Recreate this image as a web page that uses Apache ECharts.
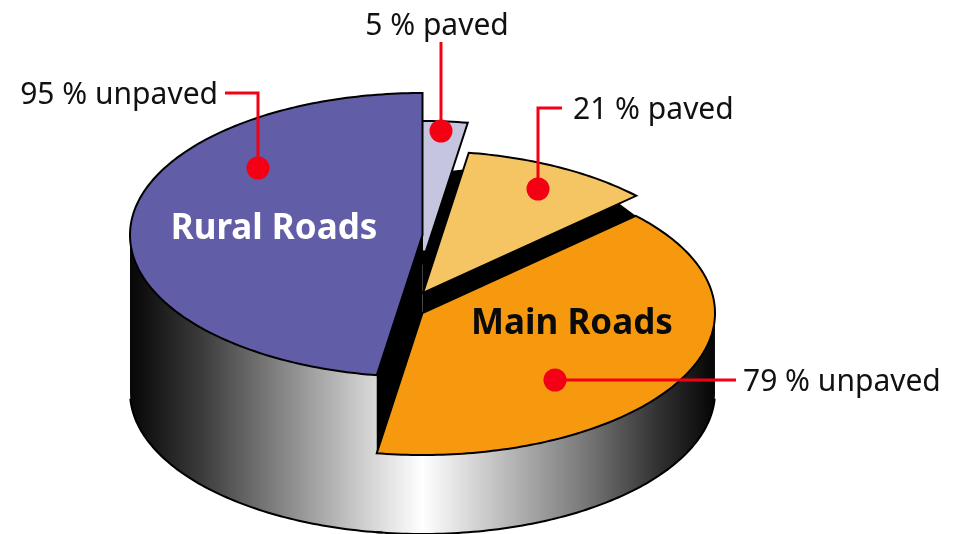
<!DOCTYPE html>
<html>
<head>
<meta charset="utf-8">
<style>
  html, body { margin: 0; padding: 0; background: #fff; }
  #chart { width: 956px; height: 534px; }
</style>
<script src="https://cdn.jsdelivr.net/npm/echarts@6/dist/echarts.min.js"></script>
</head>
<body>
<div id="chart"></div>
<script>
// Data: each road class takes half of the pie, split into unpaved / paved
const roadNames = ['Rural Roads', 'Main Roads']
const roadShare = [50, 50]
const unpavedPct = [95, 79]
const pavedPct = [5, 21]

// Slices going counter-clockwise from 12 o'clock
const sliceLabels = ['95 % unpaved', '79 % unpaved', '21 % paved', '5 % paved']
const sliceValues = [
  roadShare[0] * unpavedPct[0] / 100,
  roadShare[1] * unpavedPct[1] / 100,
  roadShare[1] * pavedPct[1] / 100,
  roadShare[0] * pavedPct[0] / 100
]

// Layout of the exploded pie
const RX = 292.5
const RY = 142
const BASE_Y = 392
const sliceCenters = [[422.5, 235], [422.5, 313], [423, 293], [422, 263]]
const sliceColors = ['#615ea7', '#f7990e', '#f5c563', '#c6c5e0']
const sideStops = [
  { offset: 0, color: '#060606' },
  { offset: 0.12, color: '#3a3a3a' },
  { offset: 0.25, color: '#808080' },
  { offset: 0.4, color: '#cfcfcf' },
  { offset: 0.5, color: '#ffffff' },
  { offset: 0.6, color: '#cfcfcf' },
  { offset: 0.78, color: '#777777' },
  { offset: 0.9, color: '#333333' },
  { offset: 1, color: '#050505' }
]

// Callouts: dot first, then the elbow of the red line
const leaders = [
  [[258, 168], [258, 93], [225, 93]],
  [[555, 380], [736, 380]],
  [[538, 189], [538, 108], [562, 108]],
  [[441, 131], [441, 42]]
]
const labelAnchors = [[218, 95, 'right'], [743, 382, 'left'], [573, 110, 'left'], [437, 26, 'center']]
const roadLabelAnchors = [[274, 229, '#ffffff'], [572, 324, '#0a0a0a']]

const LABEL_FONT = '30px "Noto Sans", sans-serif'
const ROAD_FONT = 'bold 35px "Noto Sans", sans-serif'

// Angles in degrees, maths convention, starting at the top
const total = sliceValues.reduce((a, b) => a + b, 0)
const sliceAngles = []
let cursor = 90
sliceValues.forEach(v => {
  const next = cursor + v / total * 360
  sliceAngles.push([cursor, next])
  cursor = next
})

const pointOn = (i, deg, frac = 1) => {
  const t = deg * Math.PI / 180
  const c = sliceCenters[i]
  return [c[0] + RX * frac * Math.cos(t), c[1] - RY * frac * Math.sin(t)]
}

const arc = (i, from, to) => {
  const pts = []
  const steps = Math.max(2, Math.ceil(Math.abs(to - from)))
  for (let s = 0; s <= steps; s++) {
    pts.push(pointOn(i, from + (to - from) * s / steps))
  }
  return pts
}

// Outer wall of a slice, only the part facing the viewer
const renderSide = (params) => {
  const i = params.dataIndex
  const from = Math.max(sliceAngles[i][0], 180)
  const to = Math.min(sliceAngles[i][1], 360)
  if (to <= from) return { type: 'group', children: [] }
  // a degree of overlap so no seam shows where two walls meet
  const top = arc(i, from, to + 1)
  const drop = BASE_Y - sliceCenters[i][1]
  const bottom = top.map(p => [p[0], p[1] + drop])
  return {
    type: 'group',
    children: [
      {
        type: 'polygon',
        z2: 1,
        shape: { points: top.concat(bottom.slice().reverse()) },
        style: { fill: new echarts.graphic.LinearGradient(130, 0, 715, 0, sideStops, true) }
      },
      {
        type: 'polyline',
        z2: 2,
        // keep the ends inside the silhouette
        shape: { points: arc(i, Math.max(from, 183), Math.min(to + 1, 357)).map(p => [p[0], p[1] + drop]) },
        style: { fill: 'none', stroke: '#000', lineWidth: 2, lineCap: 'round' }
      }
    ]
  }
}

// Black cut faces between the slices
const renderWalls = () => {
  const [rural, main, paved, small] = [0, 1, 2, 3]
  const ruralEdge = pointOn(rural, sliceAngles[rural][1])
  const drop = sliceCenters[main][1] - sliceCenters[rural][1]
  const c0 = sliceCenters[rural]
  const wallA = [c0, ruralEdge, [ruralEdge[0], ruralEdge[1] + drop], [c0[0], c0[1] + drop]]
  const wallB = [
    sliceCenters[paved],
    pointOn(paved, sliceAngles[paved][0], 0.92),
    pointOn(main, sliceAngles[main][1]),
    sliceCenters[main]
  ]
  const notch = pointOn(small, sliceAngles[small][0], 0.09)
  const wallC = [
    pointOn(small, sliceAngles[small][0], 0.657),
    pointOn(paved, sliceAngles[paved][1], 0.88),
    sliceCenters[paved],
    sliceCenters[main],
    [c0[0], notch[1]],
    notch
  ]
  return {
    type: 'group',
    children: [wallA, wallB, wallC].map(points => ({
      type: 'polygon',
      z2: 4,
      shape: { points },
      style: { fill: '#000' }
    }))
  }
}

const renderTop = (params) => {
  const i = params.dataIndex
  const points = [sliceCenters[i]].concat(arc(i, sliceAngles[i][0], sliceAngles[i][1]))
  return {
    type: 'polygon',
    z2: i === 3 ? 3 : 5,
    shape: { points },
    style: { fill: sliceColors[i], stroke: '#000', lineWidth: 2, lineJoin: 'miter' }
  }
}

const renderCallout = (params) => {
  const i = params.dataIndex
  const path = leaders[i]
  const anchor = labelAnchors[i]
  return {
    type: 'group',
    children: [
      {
        type: 'polyline',
        z2: 6,
        shape: { points: path },
        style: { fill: 'none', stroke: '#f40014', lineWidth: 3 }
      },
      {
        type: 'circle',
        z2: 6,
        shape: { cx: path[0][0], cy: path[0][1], r: 11.5 },
        style: { fill: '#f40014' }
      },
      {
        type: 'text',
        z2: 7,
        style: {
          text: sliceLabels[i],
          x: anchor[0],
          y: anchor[1],
          textAlign: anchor[2],
          textVerticalAlign: 'middle',
          font: LABEL_FONT,
          fill: '#111111'
        }
      }
    ]
  }
}

const renderRoadName = (params) => {
  const a = roadLabelAnchors[params.dataIndex]
  return {
    type: 'text',
    z2: 7,
    style: {
      text: roadNames[params.dataIndex],
      x: a[0],
      y: a[1],
      textAlign: 'center',
      textVerticalAlign: 'middle',
      font: ROAD_FONT,
      fill: a[2]
    }
  }
}

const sliceData = sliceValues.map((v, i) => ({ name: sliceLabels[i], value: v }))

const chart = echarts.init(document.getElementById('chart'))
chart.setOption({
  animation: false,
  backgroundColor: '#ffffff',
  series: [
    { type: 'custom', coordinateSystem: 'none', silent: true, data: sliceData, renderItem: renderSide },
    { type: 'custom', coordinateSystem: 'none', silent: true, data: [0], renderItem: renderWalls },
    { type: 'custom', coordinateSystem: 'none', silent: true, data: sliceData, renderItem: renderTop },
    { type: 'custom', coordinateSystem: 'none', silent: true, data: sliceData, renderItem: renderCallout },
    { type: 'custom', coordinateSystem: 'none', silent: true, data: roadShare, renderItem: renderRoadName }
  ]
})
</script>
</body>
</html>
